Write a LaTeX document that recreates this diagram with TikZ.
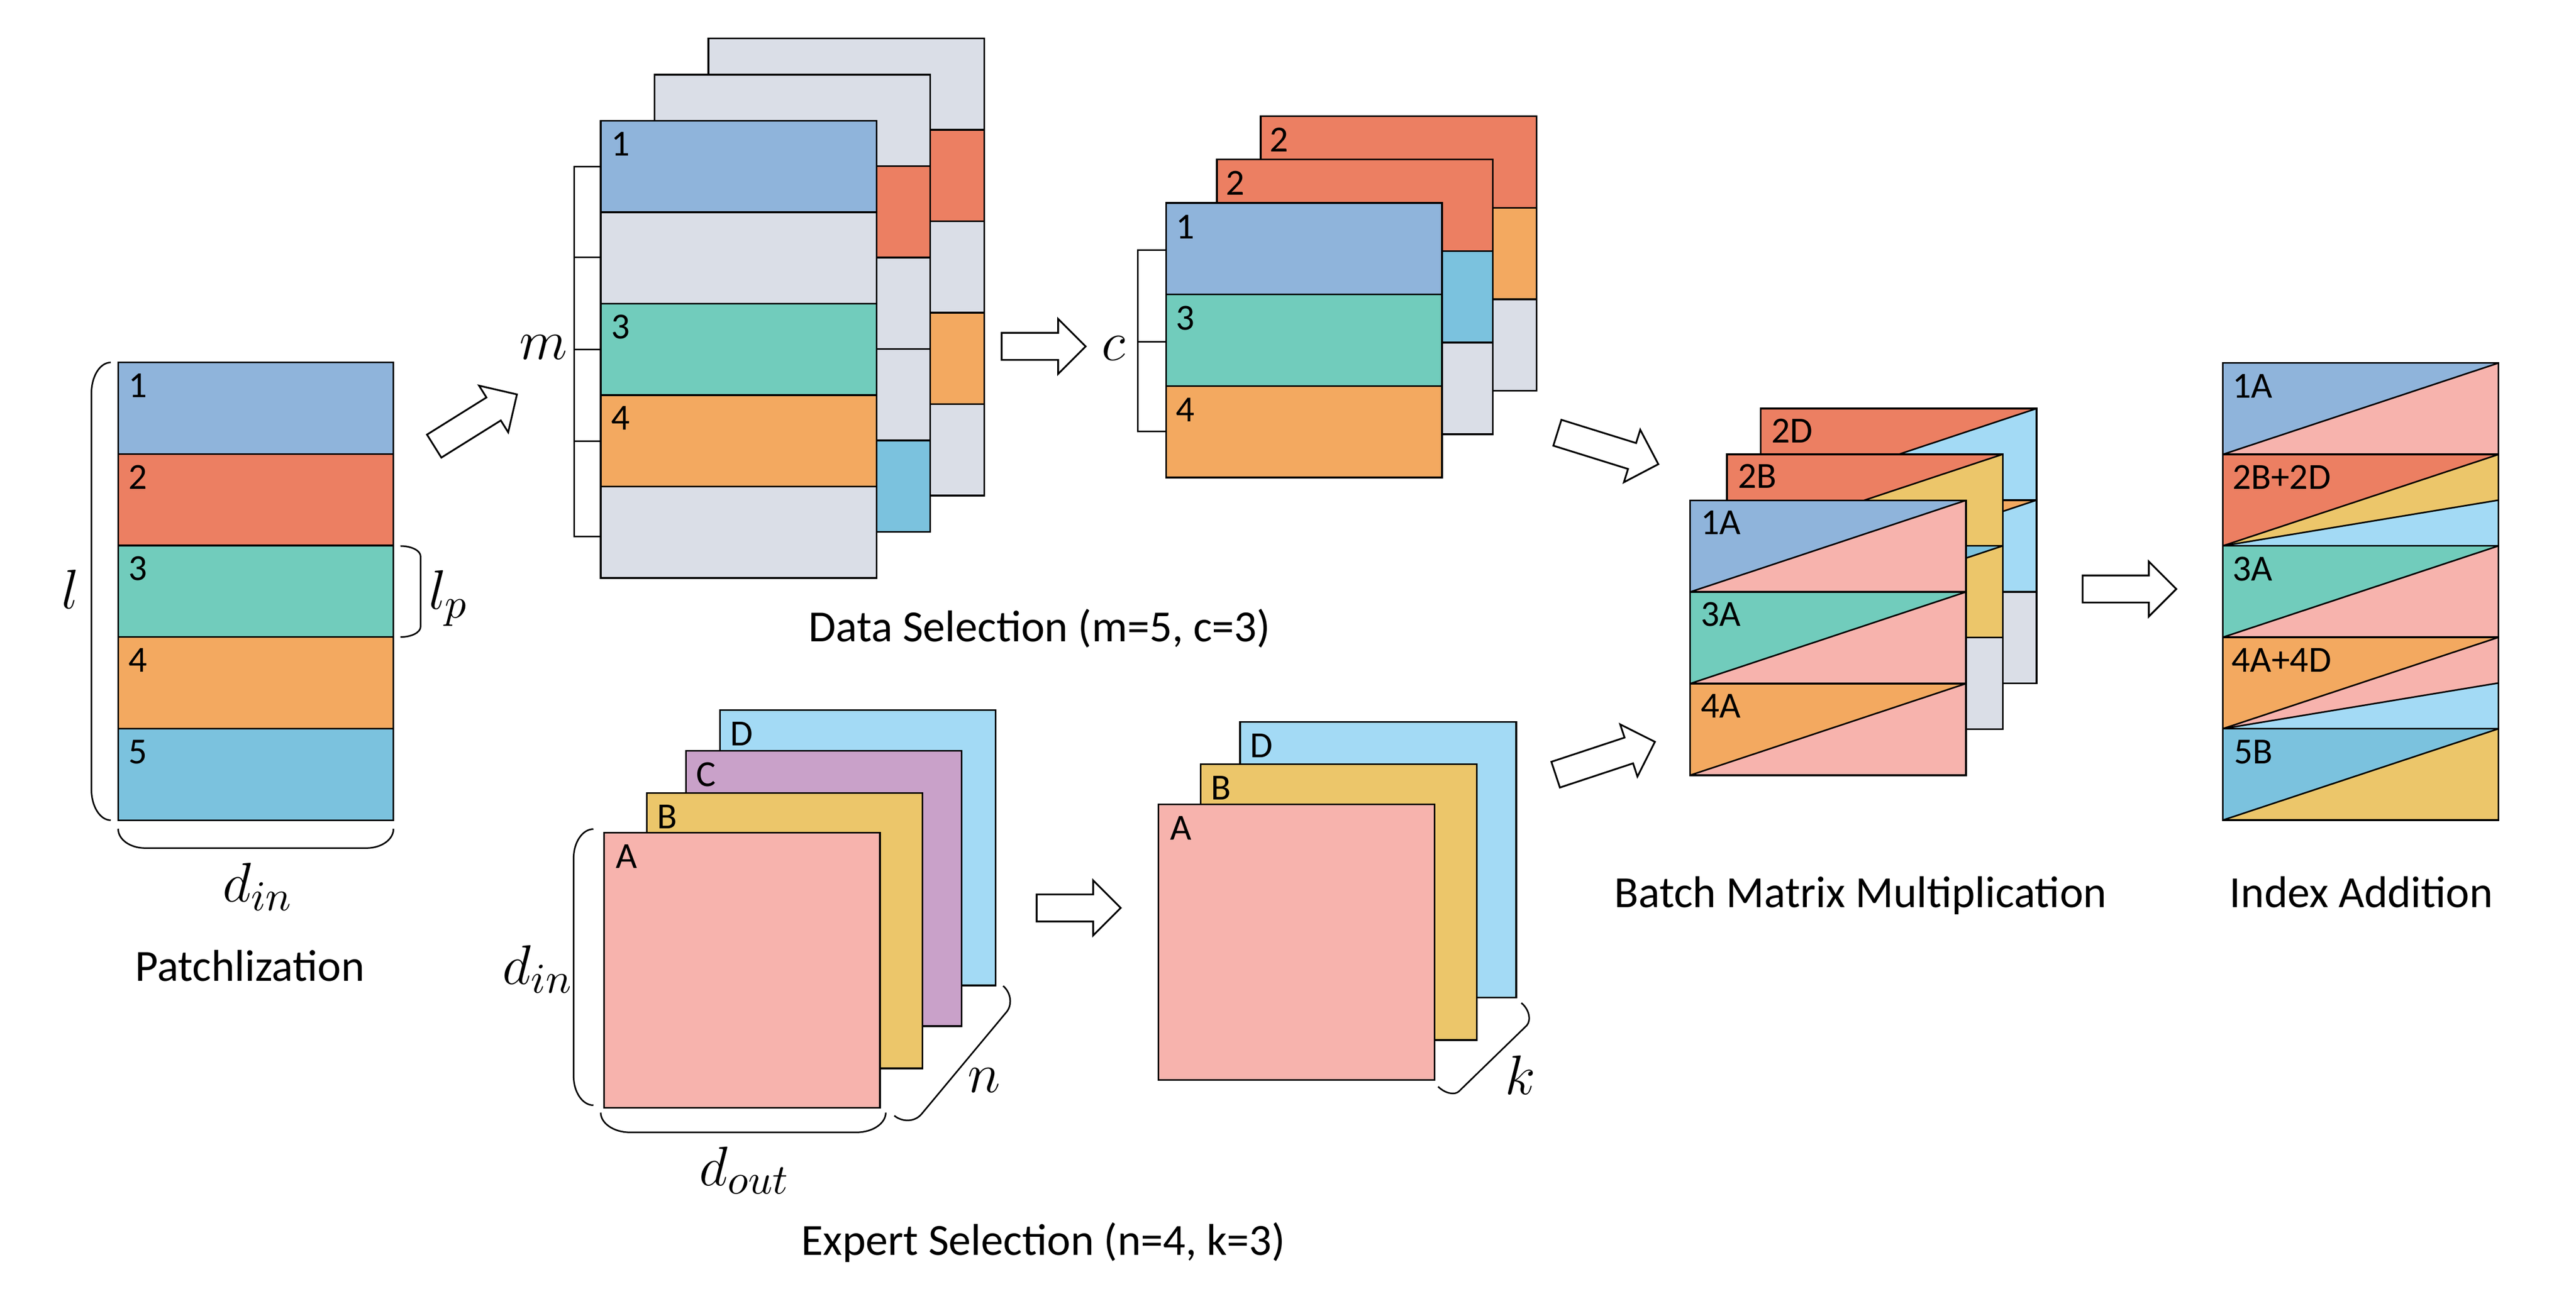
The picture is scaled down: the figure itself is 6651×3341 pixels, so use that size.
\documentclass[tikz,border=0pt]{standalone}
\usepackage{fontspec}
\setmainfont{Carlito}
\DeclareMathSizes{13.5}{13.5}{10.5}{8}
\definecolor{cA}{HTML}{8FB4DB}
\definecolor{cB}{HTML}{EC7F62}
\definecolor{cC}{HTML}{71CCBC}
\definecolor{cD}{HTML}{F3A960}
\definecolor{cE}{HTML}{7BC2DE}
\definecolor{cGray}{HTML}{DADEE7}
\definecolor{eA}{HTML}{F7B3AD}
\definecolor{eB}{HTML}{ECC66A}
\definecolor{eC}{HTML}{C9A1C9}
\definecolor{eD}{HTML}{A3DAF5}
\newcommand\splitrow[5]{% left, top, height, colour upper-left, colour lower-right
  \fill[#4] (#1,#2) -- (#1+712,#2) -- (#1,#2+#3) -- cycle;
  \fill[#5] (#1,#2+#3) -- (#1+712,#2) -- (#1+712,#2+#3) -- cycle;
  \draw[box] (#1,#2) rectangle ++(712,#3);
  \draw[diag] (#1,#2+#3) -- (#1+712,#2);
}
\newcommand\plainrow[4]{% left, top, height, colour
  \filldraw[box,fill=#4] (#1,#2) rectangle ++(712,#3);
}
\newcommand\blockarrow[4]{% tail x, tail y, angle, length
  \begin{scope}[shift={(#1,#2)},rotate=#3]
    \draw[blk] (0,-35) -- (#4-71,-35) -- (#4-71,-71) -- (#4,0) -- (#4-71,71) -- (#4-71,35) -- (0,35) -- cycle;
  \end{scope}
}
\tikzset{
  box/.style={draw=black,line width=0.45pt},
  diag/.style={draw=black,line width=0.4pt},
  brk/.style={draw=black,line width=0.4pt},
  blk/.style={draw=black,fill=white,line width=0.45pt,line join=miter},
  lab/.style={font=\fontsize{9.5}{11}\selectfont,anchor=base west,inner sep=0pt},
  captxt/.style={font=\fontsize{11.5}{14}\selectfont,anchor=base,inner sep=0pt},
  mth/.style={font=\fontsize{13.5}{16}\selectfont,inner sep=0pt}
}
\begin{document}
\begin{tikzpicture}[x=0.1pt,y=-0.1pt]
\useasboundingbox (0,0) rectangle (6651,3341);

% ---------------- Patchlization ----------------
\foreach \cc [count=\i from 0] in {cA,cB,cC,cD,cE} {
  \filldraw[box,fill=\cc] (305,936+\i*236.4) rectangle ++(711,236.4);
}
\foreach \t [count=\i from 0] in {1,2,3,4,5} {
  \node[lab] (p\t) at (330,936+\i*236.4+90) {\t};
}
\draw[brk] (286,936) .. controls (258,936) and (236,972) .. (236,1016) -- (236,2038) .. controls (236,2082) and (258,2118) .. (286,2118);
\draw[brk] (1034,1410) .. controls (1063,1410) and (1086,1422) .. (1086,1437) -- (1086,1618) .. controls (1086,1633) and (1063,1645) .. (1034,1645);
\draw[brk] (305,2140) .. controls (305,2168) and (336,2190) .. (375,2190) -- (946,2190) .. controls (985,2190) and (1016,2168) .. (1016,2140);
\node[mth] (ml) at (182,1522) {$l$};
\node[mth] (mlp) at (1158,1545) {$l_p$};
\node[mth] (mdin) at (666,2290) {$d_{in}$};
\node[captxt] (cpatch) at (645,2533) {Patchlization};

\blockarrow{1121}{1152}{32}{252}

% ---------------- Data selection ----------------
\foreach \cc [count=\i from 0] in {cGray,cB,cGray,cD,cGray} {
  \plainrow{1829}{99+\i*236.1}{236.1}{\cc}
}
\foreach \cc [count=\i from 0] in {cGray,cB,cGray,cGray,cE} {
  \plainrow{1690}{193+\i*236.1}{236.1}{\cc}
}
\foreach \cc [count=\i from 0] in {cA,cGray,cC,cD,cGray} {
  \plainrow{1551}{312+\i*236.1}{236.1}{\cc}
}
\node[lab] (d1) at (1576,312+90) {1};
\node[lab] (d3) at (1576,312+2*236.1+90) {3};
\node[lab] (d4) at (1576,312+3*236.1+90) {4};
\draw[brk] (1551,430) -- (1482,430) -- (1482,1386) -- (1551,1386);
\foreach \yy in {664,902,1139} { \draw[brk] (1482,\yy) -- (1551,\yy); }
\node[mth] (mm) at (1403,897) {$m$};
\node[captxt] (cdata) at (2684,1657) {Data Selection (m=5, c=3)};

\blockarrow{2586}{894.5}{0}{217}

% ---------------- c stack ----------------
\foreach \cc [count=\i from 0] in {cB,cD,cGray} {
  \plainrow{3255}{300+\i*236.4}{236.4}{\cc}
}
\foreach \cc [count=\i from 0] in {cB,cE,cGray} {
  \plainrow{3142}{412+\i*236.4}{236.4}{\cc}
}
\foreach \cc [count=\i from 0] in {cA,cC,cD} {
  \plainrow{3011}{524+\i*236.4}{236.4}{\cc}
}
\node[lab] (s2b) at (3276,300+92) {2};
\node[lab] (s2m) at (3163,412+92) {2};
\node[lab] (s1) at (3034,524+92) {1};
\node[lab] (s3) at (3034,524+236.4+92) {3};
\node[lab] (s4) at (3034,524+2*236.4+92) {4};
\draw[brk] (3011,646) -- (2938,646) -- (2938,1114) -- (3011,1114);
\draw[brk] (2938,883) -- (3011,883);
\node[mth] (mc) at (2875,900) {$c$};

% ---------------- arrows to batch ----------------
\blockarrow{4021}{1117.5}{-17.3}{273}
\blockarrow{4016.5}{2000.4}{18.3}{270}

% ---------------- Batch matrix multiplication ----------------
\splitrow{4546}{1055}{236.6}{cB}{eD}
\splitrow{4546}{1055+236.6}{236.6}{cD}{eD}
\plainrow{4546}{1055+2*236.6}{236.6}{cGray}
\splitrow{4459}{1173}{236.6}{cB}{eB}
\splitrow{4459}{1173+236.6}{236.6}{cE}{eB}
\plainrow{4459}{1173+2*236.6}{236.6}{cGray}
\splitrow{4364}{1292}{236.6}{cA}{eA}
\splitrow{4364}{1292+236.6}{236.6}{cC}{eA}
\splitrow{4364}{1292+2*236.6}{236.6}{cD}{eA}
\node[lab] (b2d) at (4572,1055+88) {2D};
\node[lab] (b2b) at (4485,1173+88) {2B};
\node[lab] (b1a) at (4390,1292+88) {1A};
\node[lab] (b3a) at (4390,1292+236.6+88) {3A};
\node[lab] (b4a) at (4390,1292+2*236.6+88) {4A};
\node[captxt] (cbatch) at (4804,2343) {Batch Matrix Multiplication};

\blockarrow{5377}{1521}{0}{242}

% ---------------- Index addition ----------------
\splitrow{5739}{937.4}{236.1}{cA}{eA}
% row 2: 2B+2D
\fill[cB] (5739,1173.5) -- (6451,1173.5) -- (5739,1409.6) -- cycle;
\fill[eB] (5739,1409.6) -- (6451,1173.5) -- (6451,1291.5) -- cycle;
\fill[eD] (5739,1409.6) -- (6451,1291.5) -- (6451,1409.6) -- cycle;
\draw[box] (5739,1173.5) rectangle (6451,1409.6);
\draw[diag] (5739,1409.6) -- (6451,1173.5);
\draw[diag] (5739,1409.6) -- (6451,1291.5);
\splitrow{5739}{1409.6}{236.1}{cC}{eA}
% row 4: 4A+4D
\fill[cD] (5739,1645.7) -- (6451,1645.7) -- (5739,1881.8) -- cycle;
\fill[eA] (5739,1881.8) -- (6451,1645.7) -- (6451,1763.7) -- cycle;
\fill[eD] (5739,1881.8) -- (6451,1763.7) -- (6451,1881.8) -- cycle;
\draw[box] (5739,1645.7) rectangle (6451,1881.8);
\draw[diag] (5739,1881.8) -- (6451,1645.7);
\draw[diag] (5739,1881.8) -- (6451,1763.7);
\splitrow{5739}{1881.8}{236.1}{cE}{eB}
\node[lab] (i1) at (5762,937.4+90) {1A};
\node[lab] (i2) at (5762,1173.5+90) {2B+2D};
\node[lab] (i3) at (5762,1409.6+90) {3A};
\node[lab] (i4) at (5760,1645.7+90) {4A+4D};
\node[lab] (i5) at (5766,1881.8+90) {5B};
\node[captxt] (cindex) at (6097,2343) {Index Addition};

% ---------------- Expert selection ----------------
\filldraw[box,fill=eD] (1859,1833.5) rectangle ++(712,711);
\filldraw[box,fill=eC] (1771,1938.7) rectangle ++(712,711);
\filldraw[box,fill=eB] (1670,2047.8) rectangle ++(712,711);
\filldraw[box,fill=eA] (1560,2150) rectangle ++(712,711);
\node[lab] (eDl) at (1884,1833.5+92) {D};
\node[lab] (eCl) at (1796,1938.7+92) {C};
\node[lab] (eBl) at (1695,2047.8+92) {B};
\node[lab] (eAl) at (1588,2150+92) {A};
\draw[brk] (1532,2141) .. controls (1504,2141) and (1481,2175) .. (1481,2216) -- (1481,2779) .. controls (1481,2820) and (1504,2854) .. (1532,2854);
\draw[brk] (1551,2873) .. controls (1551,2901) and (1585,2924) .. (1626,2924) -- (2212,2924) .. controls (2253,2924) and (2287,2901) .. (2287,2873);
\draw[brk] (2309,2881) .. controls (2330,2898) and (2362,2898) .. (2380,2876) -- (2599,2613) .. controls (2613,2596) and (2612,2565) .. (2590,2546);
\node[mth] (mdin2) at (1389,2503) {$d_{in}$};
\node[mth] (mdout) at (1922,3022) {$d_{out}$};
\node[mth] (mn) at (2541,2790) {$n$};
\node[captxt] (cexpert) at (2694,3241) {Expert Selection (n=4, k=3)};

\blockarrow{2676.5}{2344.5}{0}{217}

% ---------------- k stack ----------------
\filldraw[box,fill=eD] (3202,1864.3) rectangle ++(713,712);
\filldraw[box,fill=eB] (3100,1973.7) rectangle ++(713,712);
\filldraw[box,fill=eA] (2991,2077) rectangle ++(713,712);
\node[lab] (kD) at (3226,1864.3+92) {D};
\node[lab] (kB) at (3124,1973.7+92) {B};
\node[lab] (kA) at (3020,2077+92) {A};
\draw[brk] (3713,2806) .. controls (3733,2825) and (3757,2828) .. (3767,2818) -- (3942,2648) .. controls (3954,2634) and (3948,2606) .. (3928,2590);
\node[mth] (mk) at (3925,2776) {$k$};
\end{tikzpicture}
\end{document}
